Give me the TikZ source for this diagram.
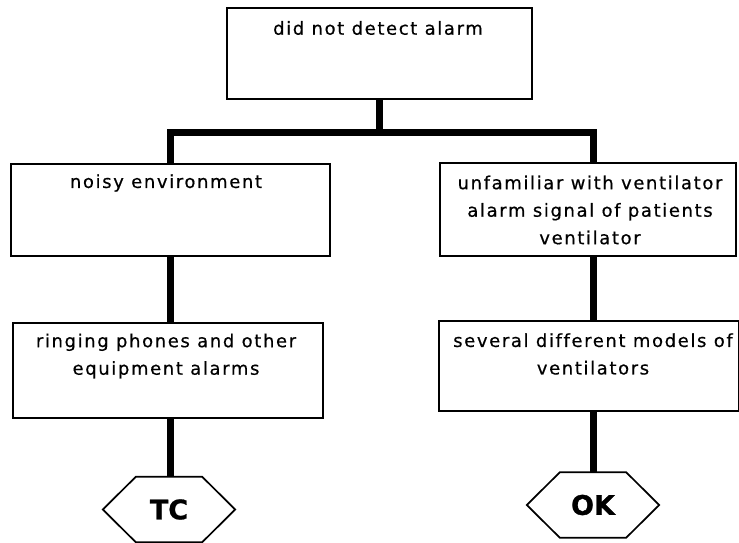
\documentclass[tikz,border=0pt]{standalone}
\usepackage{fontspec}
\setmainfont{DejaVu Sans}[LetterSpace=9,Ligatures=NoCommon,FakeBold=0.5]
\newfontfamily\hexfont{DejaVu Sans}[FakeBold=1]
\begin{document}
\begin{tikzpicture}[x=1pt,y=-1pt,
  box/.style={draw=black,line width=1.7pt,minimum width=#1,inner sep=0pt},
  lbl/.style={align=center,font=\fontsize{18}{27.5}\selectfont,inner sep=0pt},
  conn/.style={line width=7pt,line join=miter},
  hexlbl/.style={font=\hexfont\bfseries\fontsize{27}{27}\selectfont,inner sep=0pt,minimum width=132pt,minimum height=65pt}]
\useasboundingbox[fill=white] (0,0) rectangle (739,543);
% boxes
\node[box=305pt,minimum height=91pt] (top) at (379.5,53.5) {};
\node[box=319pt,minimum height=92pt] (nb1) at (170.5,210) {};
\node[box=296pt,minimum height=93pt] (nb2) at (588,209.5) {};
\node[box=310pt,minimum height=95pt] (nb3) at (168,370.5) {};
\node[box=300pt,minimum height=90pt] (nb4) at (589,366) {};
% texts
\node[lbl] (t0) at (378,28) {did not detect alarm};
\node[lbl] (t1) at (166,183) {noisy environment};
\node[lbl] (t2) at (590,210) {unfamiliar with ventilator\\alarm signal of patients\\ventilator};
\node[lbl] (t3) at (166,356) {ringing phones and other\\equipment alarms};
\node[lbl] (t4) at (593,354) {several different models of\\ventilators};
% hexagons
\node[hexlbl] (tc) at (169,509.5) {TC};
\node[hexlbl] (ok) at (593,505) {OK};
\foreach \h in {tc,ok}{
  \draw[line width=1.7pt] (\h.west) -- ([xshift=33pt]\h.north west) -- ([xshift=-33pt]\h.north east) -- (\h.east) -- ([xshift=-33pt]\h.south east) -- ([xshift=33pt]\h.south west) -- cycle;
}
% connectors
\coordinate (barL) at (170,132);
\coordinate (barR) at (593,132);
\draw[conn] (top.south) -- (top.south |- barL);
\draw[conn] (nb1.north -| barL) -- (barL) -- (barR) -- (nb2.north -| barR);
\draw[conn] (nb1.south -| barL) -- (nb3.north -| barL);
\draw[conn] (nb3.south -| barL) -- (tc.north -| barL);
\draw[conn] (nb2.south -| barR) -- (nb4.north -| barR);
\draw[conn] (nb4.south -| barR) -- (ok.north -| barR);
\end{tikzpicture}
\end{document}
